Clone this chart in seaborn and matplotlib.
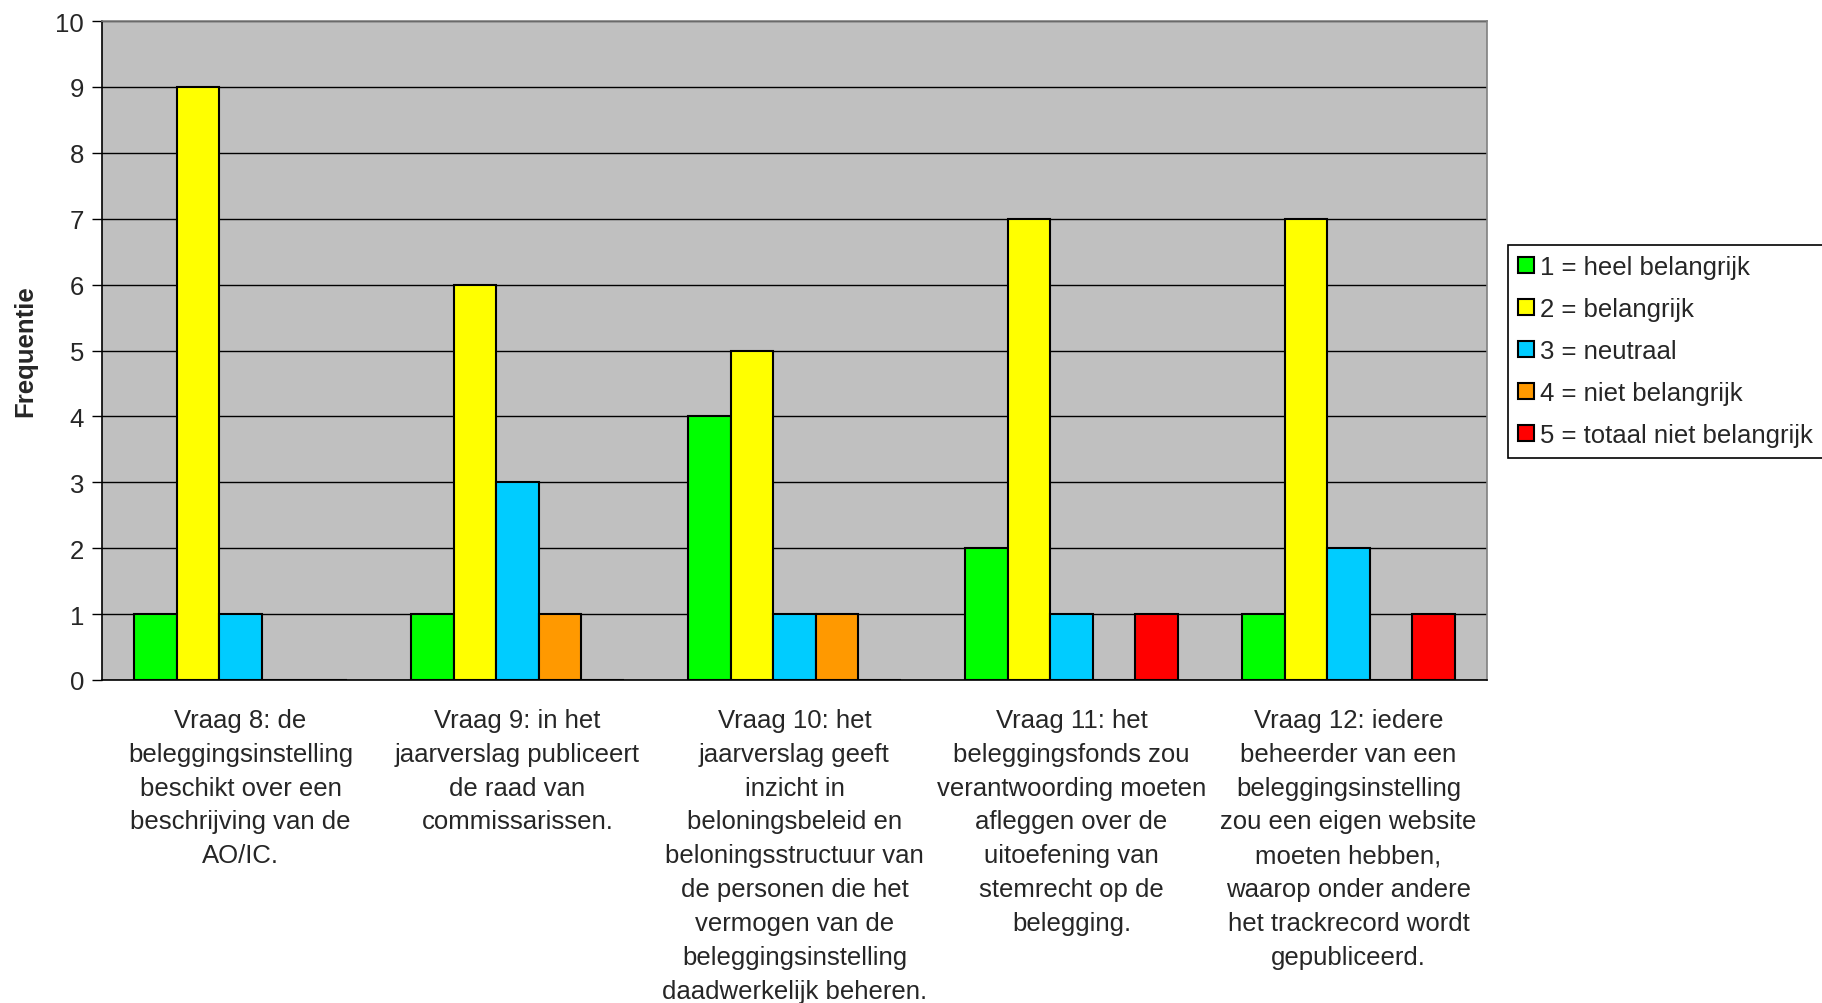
import numpy as np
import pandas as pd
import matplotlib
matplotlib.use("Agg")
import matplotlib.pyplot as plt
import seaborn as sns

# Questions (x-axis categories)
questions = [
    "Vraag 8: de\nbeleggingsinstelling\nbeschikt over een\nbeschrijving van de\nAO/IC.",
    "Vraag 9: in het\njaarverslag publiceert\nde raad van\ncommissarissen.",
    "Vraag 10: het\njaarverslag geeft\ninzicht in\nbeloningsbeleid en\nbeloningsstructuur van\nde personen die het\nvermogen van de\nbeleggingsinstelling\ndaadwerkelijk beheren.",
    "Vraag 11: het\nbeleggingsfonds zou\nverantwoording moeten\nafleggen over de\nuitoefening van\nstemrecht op de\nbelegging.",
    "Vraag 12: iedere\nbeheerder van een\nbeleggingsinstelling\nzou een eigen website\nmoeten hebben,\nwaarop onder andere\nhet trackrecord wordt\ngepubliceerd.",
]

# Answer scale
answers = [
    "1 = heel belangrijk",
    "2 = belangrijk",
    "3 = neutraal",
    "4 = niet belangrijk",
    "5 = totaal niet belangrijk",
]

# Frequencies per answer, one value per question
freq_1 = [1, 1, 4, 2, 1]
freq_2 = [9, 6, 5, 7, 7]
freq_3 = [1, 3, 1, 1, 2]
freq_4 = [0, 1, 1, 0, 0]
freq_5 = [0, 0, 0, 1, 1]

colors = ["#00FF00", "#FFFF00", "#00CCFF", "#FF9900", "#FF0000"]

rows = []
for ans, vals in zip(answers, [freq_1, freq_2, freq_3, freq_4, freq_5]):
    for q, v in zip(questions, vals):
        rows.append({"vraag": q, "antwoord": ans, "frequentie": v})
df = pd.DataFrame(rows)

sns.set_theme(style="white")
plt.rcParams["font.family"] = ["Liberation Sans", "DejaVu Sans"]

FS = 18.5
W, H = 1822, 1004
fig = plt.figure(figsize=(W / 100, H / 100), dpi=100)
ax = fig.add_axes([102 / W, 1 - 681 / H, (1487 - 102) / W, (681 - 22) / H])
ax.set_facecolor("#C0C0C0")

sns.barplot(
    data=df, x="vraag", y="frequentie", hue="antwoord",
    order=questions, hue_order=answers, palette=colors,
    width=0.766, dodge=True, edgecolor="black", linewidth=1.5,
    saturation=1, ax=ax, zorder=3,
)

ax.set_ylim(0, 10)
ax.set_xlim(-0.5, len(questions) - 0.5)
ax.set_yticks(range(0, 11))
ax.yaxis.grid(True, color="black", linewidth=1.0, zorder=1)
ax.set_axisbelow(True)

# labels centred under each group, tick marks between groups
ax.set_xticks(range(len(questions)))
ax.set_xticklabels(questions, fontsize=FS, linespacing=1.52, va="top")
ax.set_xticks(np.arange(-0.5, len(questions)), minor=True)
ax.tick_params(axis="x", which="major", length=0, pad=20)
ax.tick_params(axis="x", which="minor", length=9, width=1, color="black", direction="out")
ax.tick_params(axis="y", length=7, width=1, color="black", direction="out",
               labelsize=FS, pad=6, left=True)

ax.set_xlabel("")
ax.set_ylabel("Frequentie", fontsize=FS, fontweight="bold")
ax.yaxis.set_label_coords((37 - 102) / (1487 - 102), 0.5)

for side in ["left", "bottom"]:
    ax.spines[side].set_color("black")
    ax.spines[side].set_linewidth(1.2)
for side in ["top", "right"]:
    ax.spines[side].set_color("#808080")
    ax.spines[side].set_linewidth(1.2)

leg = ax.legend(
    loc="upper left", bbox_to_anchor=(1508 / W, 1 - 246 / H),
    bbox_transform=fig.transFigure, fontsize=FS, frameon=True,
    fancybox=False, edgecolor="black", framealpha=1,
    handlelength=0.6, handleheight=0.6, handletextpad=0.25,
    labelspacing=0.7, borderpad=0.4, borderaxespad=0,
)
leg.get_frame().set_linewidth(1.2)

fig.savefig("out.png", dpi=100)
